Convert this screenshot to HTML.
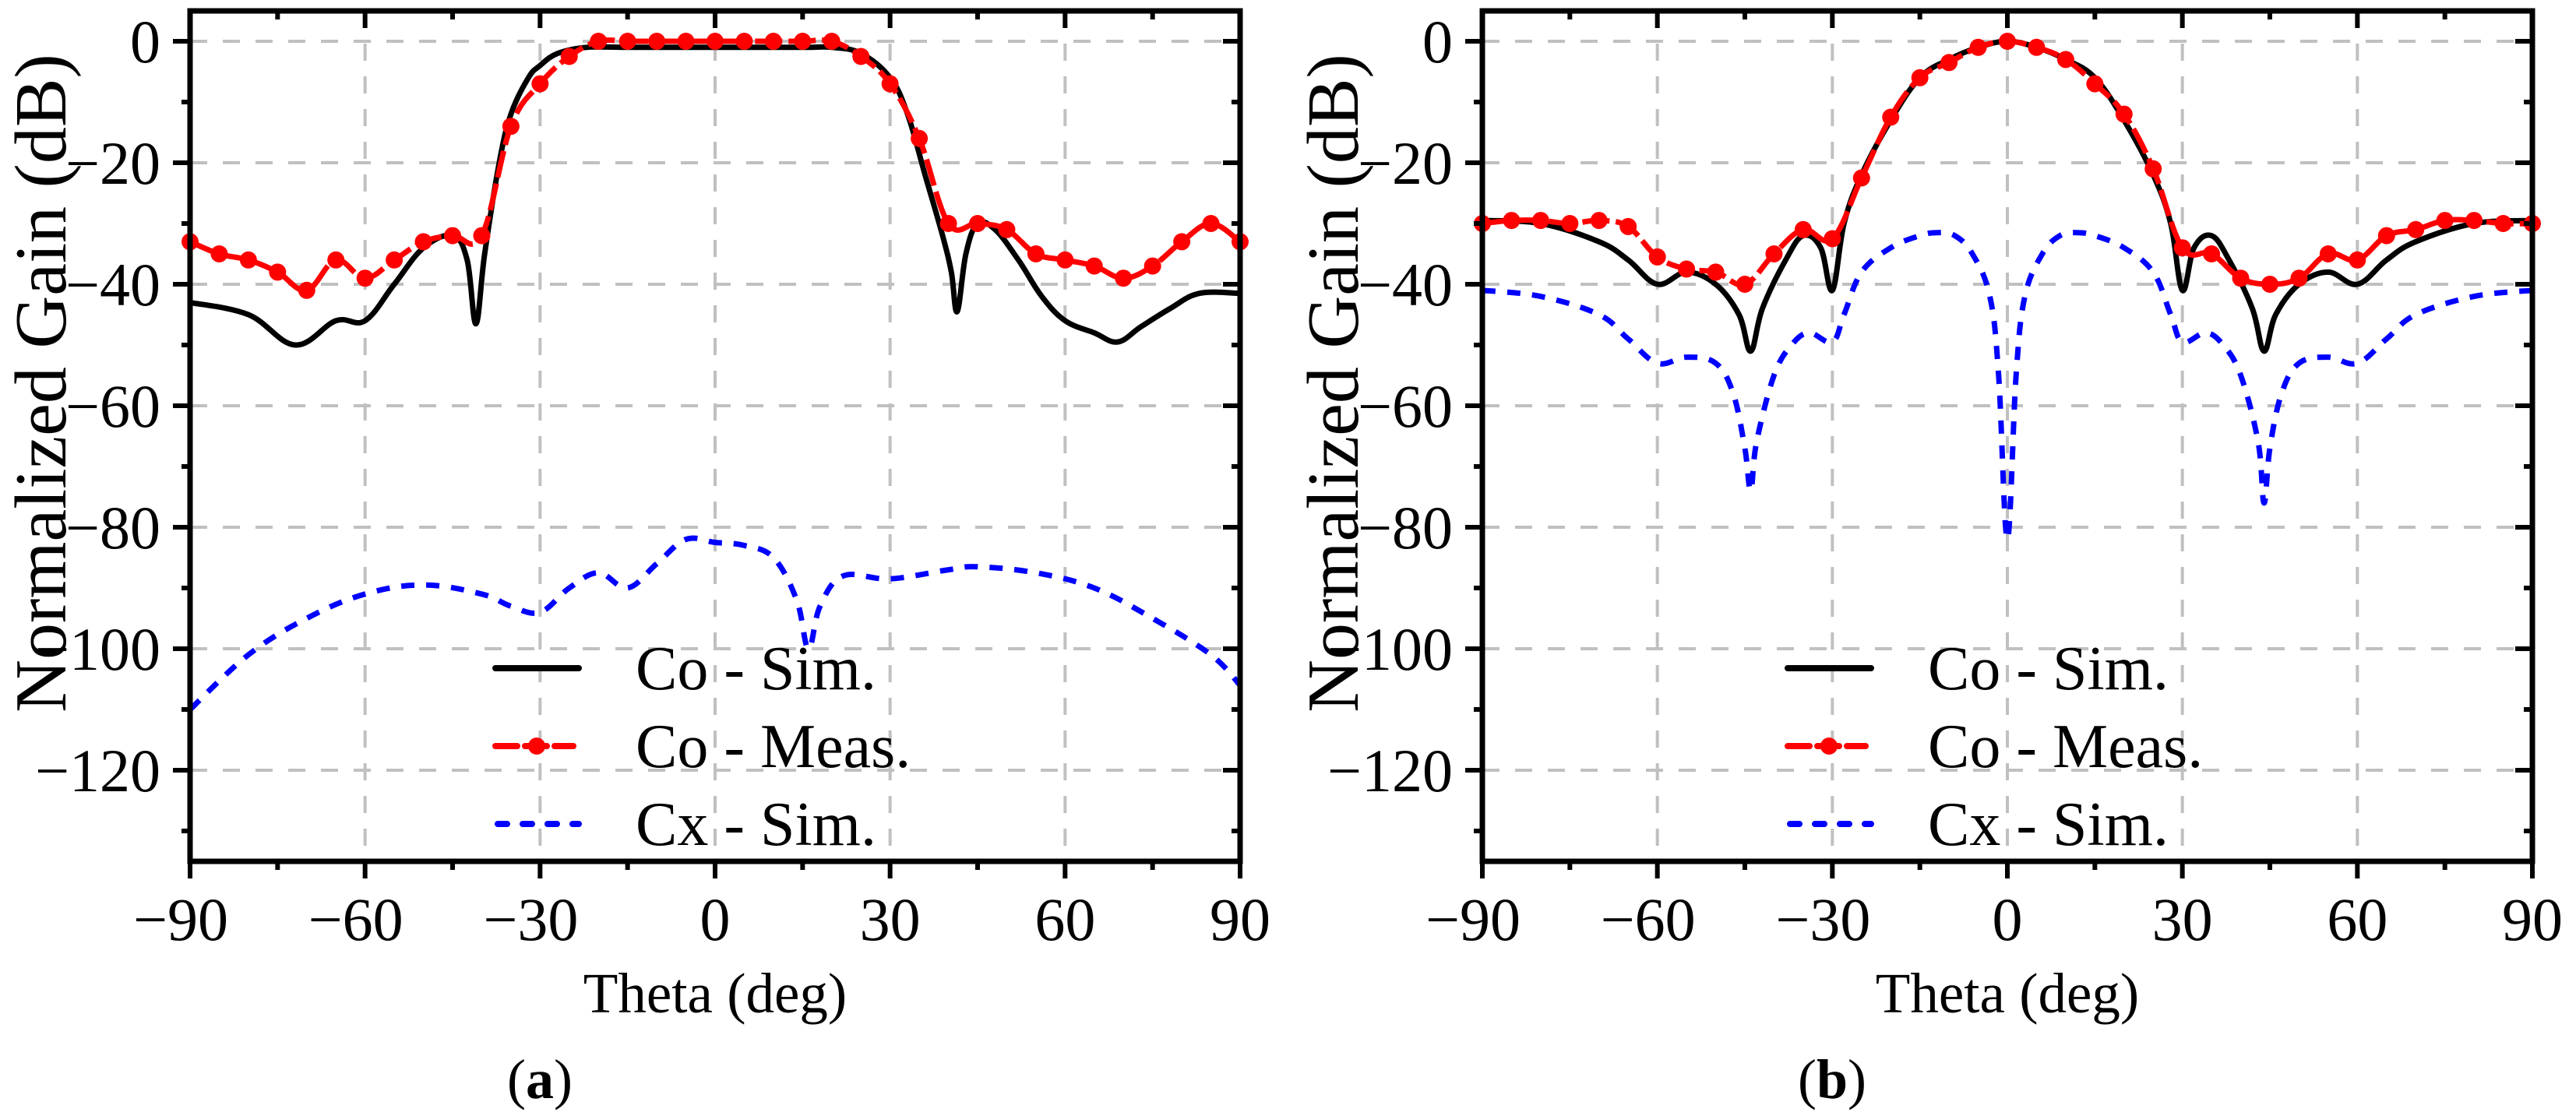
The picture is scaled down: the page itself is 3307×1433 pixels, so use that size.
<!DOCTYPE html>
<html><head><meta charset="utf-8"><style>
body{margin:0;background:#fff}
svg, svg text{font-family:"Liberation Serif","Times New Roman","DejaVu Serif",serif}
svg text{fill:#000}
</style></head><body>
<svg id="chart" width="3307" height="1428" viewBox="0 0 3307 1428" xmlns="http://www.w3.org/2000/svg" font-family="Liberation Serif, serif"></svg>
<script>
// Panel (a) data
const aCoSimX=[-90,-80,-72,-65,-60,-55,-50,-45,-42.5,-41,-39.5,-37,-35,-32,-30,-27,-22,-15,0,15,20,25,30,33,36,39,40.5,41.5,43,45,48,52,56,60,65,69,73,78,83,90];
const aCoSimY=[-43,-45,-50,-46,-46,-40,-34,-32,-36,-46.5,-35,-20,-12,-6,-4,-2,-1,-1,-1,-1,-1,-2,-6,-12,-22,-32,-38,-44.5,-35,-30,-31,-36,-42,-46,-48,-49.5,-47,-44,-41.5,-41.5];
const aMeasX=[-90,-85,-80,-75,-70,-65,-60,-55,-50,-45,-40,-35,-30,-25,-20,-15,-10,-5,0,5,10,15,20,25,30,35,40,45,50,55,60,65,70,75,80,85,90];
const aMeasY=[-33,-35,-36,-38,-41,-36,-39,-36,-33,-32,-32,-14,-7,-2.5,0,0,0,0,0,0,0,0,0,-2.5,-7,-16,-30,-30,-31,-35,-36,-37,-39,-37,-33,-30,-33];
const aCxX=[-90,-80,-70,-60,-50,-40,-35,-30,-25,-20,-15,-10,-5,0,5,10,14,16,18,22,30,40,45,55,65,75,85,90];
const aCxY=[-110,-101,-95,-91,-89.5,-91,-93,-94,-90,-87.5,-90,-86,-82,-82.5,-83,-85,-92,-100,-93,-88,-88.5,-87,-86.5,-87.5,-90,-95,-101,-106];
// Panel (b) data
const bCoSimX=[-90,-80,-70,-65,-60,-55,-50,-46,-44,-42,-38,-35,-32,-30,-28,-25,-20,-15,-10,-5,0,5,10,15,20,25,28,30,32,35,38,42,44,46,50,55,60,65,70,80,90];
const bCoSimY=[-29.5,-30,-33,-36,-40,-38,-40,-45,-51,-44,-36,-32,-34,-41,-30,-22,-13,-6,-3,-1,0,-1,-3,-6,-13,-22,-30,-41,-34,-32,-36,-44,-51,-45,-40,-38,-40,-36,-33,-30,-29.5];
const bMeasX=[-90,-85,-80,-75,-70,-65,-60,-55,-50,-45,-40,-35,-30,-25,-20,-15,-10,-5,0,5,10,15,20,25,30,35,40,45,50,55,60,65,70,75,80,85,90];
const bMeasY=[-30,-29.5,-29.5,-30,-29.5,-30.5,-35.5,-37.5,-38,-40,-35,-31,-32.5,-22.5,-12.5,-6,-3.5,-1,0,-1,-3,-7,-12,-21,-34,-35,-39,-40,-39,-35,-36,-32,-31,-29.5,-29.5,-30,-30];
const bCxX=[-90,-80,-70,-65,-60,-55,-50,-47,-45,-44,-43,-40,-37,-34,-30,-28,-25,-20,-15,-12,-9,-6,-3,-1.5,0,1.5,3,6,9,12,15,20,25,28,30,34,37,40,43,44,45,47,50,55,60,65,70,80,90];
const bCxY=[-41,-42,-45,-49,-53,-52,-53,-58,-67,-74,-66,-55,-50,-48,-49.5,-45,-38,-34,-32,-31.5,-32,-35,-42,-55,-82,-55,-42,-35,-32,-31.5,-32,-34,-38,-45,-49.5,-48,-50,-55,-66,-76,-67,-58,-53,-52,-53,-49,-45,-42,-41];
const xTicks=[-90,-60,-30,0,30,60,90];
const yTicks=[0,-20,-40,-60,-80,-100,-120];
const xTickLabels=["\u221290","\u221260","\u221230","0","30","60","90"];
const yTickLabels=["0","\u221220","\u221240","\u221260","\u221280","\u2212100","\u2212120"];

const NS="http://www.w3.org/2000/svg";
const FONT='"Liberation Serif","Times New Roman","DejaVu Serif",serif';
const svg=document.getElementById('chart');
function mk(tag,attrs,parent){const e=document.createElementNS(NS,tag);for(const k in attrs)e.setAttribute(k,attrs[k]);if(tag==='text')e.style.fontFamily=FONT;(parent||svg).appendChild(e);return e;}

function smooth(pts){
  let d='M'+pts[0][0].toFixed(1)+','+pts[0][1].toFixed(1);
  for(let i=0;i<pts.length-1;i++){
    const p0=pts[i-1]||pts[i],p1=pts[i],p2=pts[i+1],p3=pts[i+2]||p2;
    const t=0.18;
    const c1=[p1[0]+(p2[0]-p0[0])*t,p1[1]+(p2[1]-p0[1])*t];
    const c2=[p2[0]-(p3[0]-p1[0])*t,p2[1]-(p3[1]-p1[1])*t];
    d+='C'+c1[0].toFixed(1)+','+c1[1].toFixed(1)+' '+c2[0].toFixed(1)+','+c2[1].toFixed(1)+' '+p2[0].toFixed(1)+','+p2[1].toFixed(1);
  }
  return d;
}

function panel(L,coX,coY,mX,mY,cX,cY,letter){
  const R=L+1348,T=14,B=1106;
  const sx=v=>L+(v+90)/180*(R-L);
  const sy=v=>53+(-v)*7.8;
  const g=mk('g',{});
  
  
  xTicks.forEach(t=>{if(t>-90&&t<90){const l=mk('line',{x1:sx(t),x2:sx(t),y1:T,y2:B,stroke:'#c0c0c0','stroke-width':4,'stroke-dasharray':'22,20'},g);}});
  yTicks.forEach(t=>{const l=mk('line',{x1:L,x2:R,y1:sy(t),y2:sy(t),stroke:'#c0c0c0','stroke-width':4,'stroke-dasharray':'22,20'},g);});
  const pts=(xs,ys)=>xs.map((x,i)=>[sx(x),sy(ys[i])]);
  const cx=mk('path',{d:smooth(pts(cX,cY)),fill:'none',stroke:'#0000ff','stroke-width':7,'stroke-dasharray':'17,15','stroke-linejoin':'round'},g);
  
  const co=mk('path',{d:smooth(pts(coX,coY)),fill:'none',stroke:'#000','stroke-width':7,'stroke-linejoin':'round'},g);
  
  const me=mk('path',{d:smooth(pts(mX,mY)),fill:'none',stroke:'#ff0000','stroke-width':7,'stroke-dasharray':'35,8','stroke-linejoin':'round'},g);
  
  mX.forEach((x,i)=>{const c=mk('circle',{cx:sx(x),cy:sy(mY[i]),r:11,fill:'#ff0000'},g);});
  const fr=mk('rect',{x:L,y:T,width:R-L,height:B-T,fill:'none',stroke:'#000','stroke-width':7},g);
  
  for(let t=-90;t<=90;t+=15){const maj=t%30===0;
    mk('line',{x1:sx(t),x2:sx(t),y1:B,y2:B+(maj?22:11),stroke:'#000','stroke-width':6},g);
    mk('line',{x1:sx(t),x2:sx(t),y1:T,y2:T+(maj?22:11),stroke:'#000','stroke-width':6},g);}
  for(let t=0;t>=-130;t-=10){const maj=t%20===0;
    mk('line',{x1:L,x2:L-(maj?22:11),y1:sy(t),y2:sy(t),stroke:'#000','stroke-width':6},g);
    mk('line',{x1:R,x2:R-(maj?22:11),y1:sy(t),y2:sy(t),stroke:'#000','stroke-width':6},g);}
  xTicks.forEach((t,i)=>{const e=mk('text',{x:sx(t)-(t<0?12:0),y:1207,'font-size':78,'text-anchor':'middle'},g);e.textContent=xTickLabels[i];});
  yTicks.forEach((t,i)=>{const e=mk('text',{x:L-38,y:sy(t)+27,'font-size':78,'text-anchor':'end'},g);e.textContent=yTickLabels[i];});
  const xt=mk('text',{x:(L+R)/2,y:1300,'font-size':73,'text-anchor':'middle'},g);xt.textContent='Theta (deg)';
  const yt=mk('text',{x:0,y:0,'font-size':94,'text-anchor':'middle',transform:`translate(${L-160},492) rotate(-90)`},g);yt.textContent='Normalized Gain (dB)';
  const cap=mk('text',{x:(L+R)/2-225,y:1410,'font-size':72,'text-anchor':'middle'},g);
  cap.innerHTML='(<tspan font-weight="bold">'+letter+'</tspan>)';
  const lx=L+392,tx=L+572;
  const lg=mk('g',{},g);
  mk('line',{x1:lx,x2:lx+107,y1:858,y2:858,stroke:'#000','stroke-width':8,'stroke-linecap':'round'},lg);
  mk('line',{x1:lx,x2:lx+100,y1:958,y2:958,stroke:'#ff0000','stroke-width':8,'stroke-dasharray':'28,10','stroke-linecap':'round'},lg);
  mk('circle',{cx:lx+53,cy:958,r:11,fill:'#ff0000'},lg);
  mk('line',{x1:lx+3,x2:lx+107,y1:1058,y2:1058,stroke:'#0000ff','stroke-width':8,'stroke-dasharray':'12,20','stroke-linecap':'round'},lg);
  [['Co - Sim.',885],['Co - Meas.',985],['Cx - Sim.',1085]].forEach(([s,y])=>{const e=mk('text',{x:tx,y:y,'font-size':80},lg);e.textContent=s;});
}
panel(244,aCoSimX,aCoSimY,aMeasX,aMeasY,aCxX,aCxY,'a');
panel(1903,bCoSimX,bCoSimY,bMeasX,bMeasY,bCxX,bCxY,'b');
</script>
</body></html>
